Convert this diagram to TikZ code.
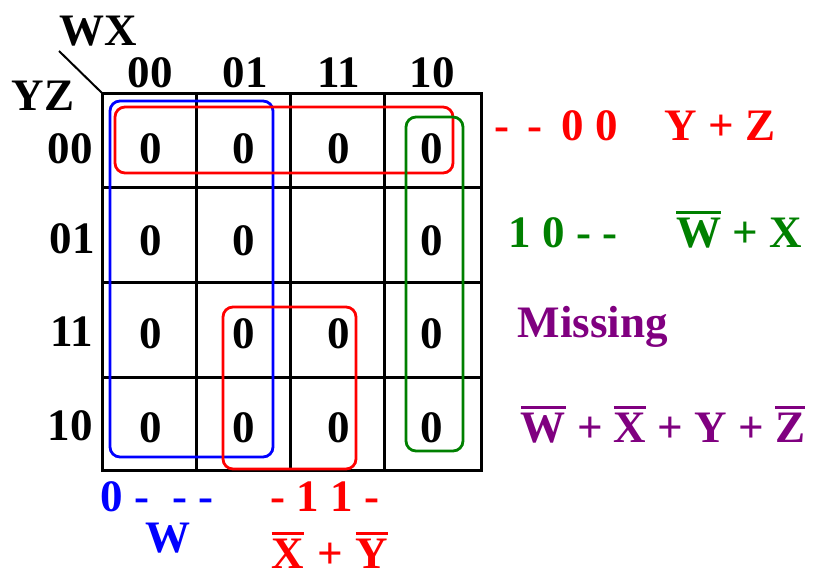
\documentclass[tikz,border=0pt]{standalone}
\usepackage{fontspec}
\setmainfont{Liberation Serif}
\definecolor{kred}{RGB}{255,0,0}
\definecolor{kblue}{RGB}{0,0,255}
\definecolor{kgreen}{RGB}{0,128,0}
\definecolor{kpurple}{RGB}{128,0,128}
\newcommand\ovl[1]{\leavevmode\vbox{\hrule height 2.6pt\kern 3.5pt\hbox{#1}}}
\tikzset{
  gridline/.style={line width=3pt, line cap=rect},
  grouploop/.style={line width=2.8pt, rounded corners=10pt},
  lbl/.style={font=\fontsize{45}{50}\selectfont\bfseries, inner sep=0pt, anchor=base},
}
\begin{document}
\begin{tikzpicture}[x=1pt,y=-1pt]
\useasboundingbox (0,0) rectangle (816,576);
% grid
\draw[gridline] (102,93) rectangle (481,470);
\foreach \x in {196,290,384} \draw[gridline] (\x,93) -- (\x,470);
\foreach \y in {187,282,377} \draw[gridline] (102,\y) -- (481,\y);
\coordinate (diagA) at (59,51);
\coordinate (diagB) at (102,93);
\draw[line width=2pt] (diagA) -- (diagB);
% headers
\node[lbl] (wx) at (98,45) {WX};
\node[lbl] (yz) at (43,110) {YZ};
\node[lbl] (c00) at (150,87) {00};
\node[lbl] (c01) at (245,87) {01};
\node[lbl] (c11) at (339,87) {11};
\node[lbl] (c10) at (432,87) {10};
\node[lbl] (r00) at (70,163) {00};
\node[lbl] (r01) at (72,253) {01};
\node[lbl] (r11) at (72,346) {11};
\node[lbl] (r10) at (70,440) {10};
% cells
\node[lbl] (m11) at (151,163) {0};
\node[lbl] (m12) at (244,163) {0};
\node[lbl] (m13) at (339,163) {0};
\node[lbl] (m14) at (432,163) {0};
\node[lbl] (m21) at (151,255) {0};
\node[lbl] (m22) at (244,255) {0};
\node[lbl] (m24) at (432,255) {0};
\node[lbl] (m31) at (151,348) {0};
\node[lbl] (m32) at (244,348) {0};
\node[lbl] (m33) at (339,348) {0};
\node[lbl] (m34) at (432,348) {0};
\node[lbl] (m41) at (151,442) {0};
\node[lbl] (m42) at (244,442) {0};
\node[lbl] (m43) at (339,442) {0};
\node[lbl] (m44) at (432,442) {0};
% loops
\draw[grouploop, kblue] (110,101) rectangle (273,457);
\draw[grouploop, kred] (115,107) rectangle (453,173);
\draw[grouploop, kgreen] (406,117) rectangle (463,451);
\draw[grouploop, kred] (223,307) rectangle (356,469);
% right labels
\node[lbl, kred] (t1a) at (556,140) {-\,\ -\,\ 0\ 0};
\node[lbl, kred] (t1b) at (720,140) {Y + Z};
\node[lbl, kgreen] (t2a) at (563,247) {1 0 - -};
\node[lbl, kgreen] (t2b) at (739,247) {\ovl{W} + X};
\node[lbl, kpurple] (t3) at (593,337) {Missing};
\node[lbl, kpurple] (t4) at (663,442) {\ovl{W} + \ovl{X} + Y + \ovl{Z}};
% bottom labels
\node[lbl, kblue] (b1a) at (157,511) {0 -\ \ - -};
\node[lbl, kblue] (b1b) at (168,552) {W};
\node[lbl, kred] (b2a) at (325,511) {- 1 1 -};
\node[lbl, kred] (b2b) at (330,568) {\ovl{X}\hspace{13pt}+\hspace{13pt}\ovl{Y}};
\end{tikzpicture}
\end{document}
